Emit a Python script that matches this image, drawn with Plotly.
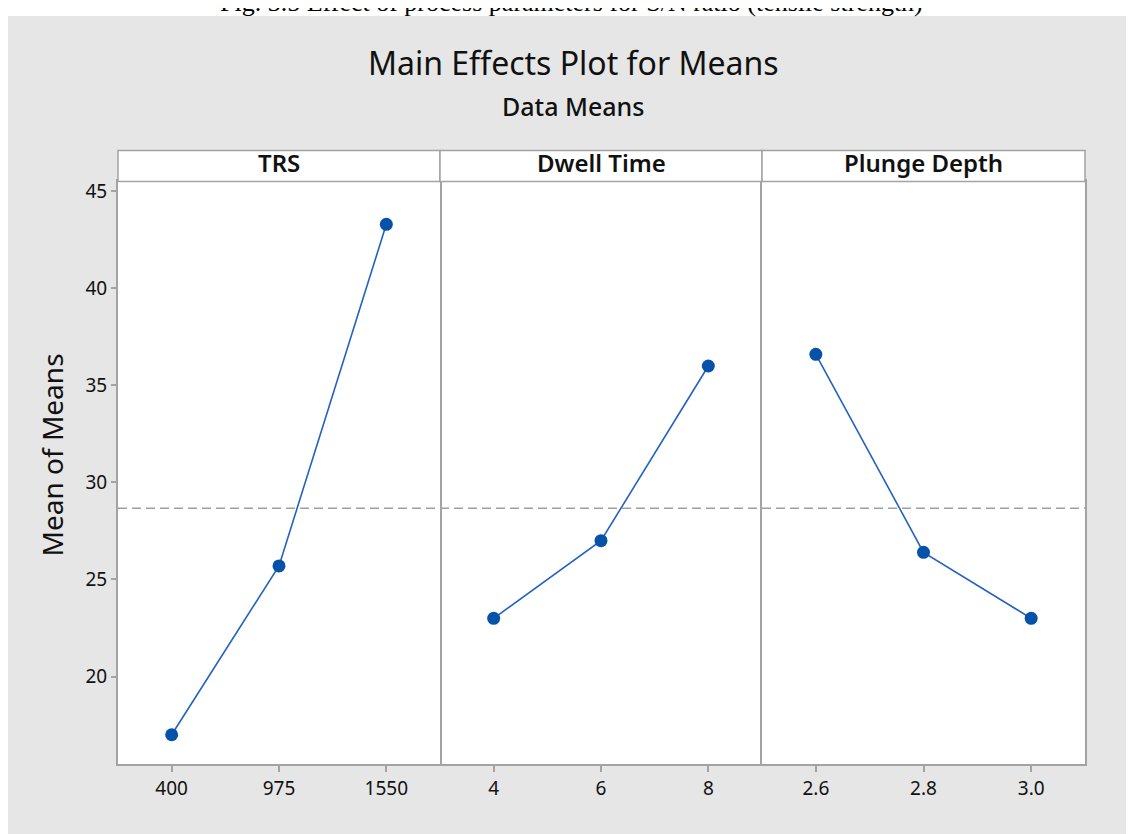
import plotly.graph_objects as go

# ---- data ----
factors = ["TRS", "Dwell Time", "Plunge Depth"]
trs_levels = ["400", "975", "1550"]
trs_means = [17.0, 25.7, 43.3]
dwell_levels = ["4", "6", "8"]
dwell_means = [23.0, 27.0, 36.0]
plunge_levels = ["2.6", "2.8", "3.0"]
plunge_means = [36.6, 26.4, 23.0]
y_ticks = [20, 25, 30, 35, 40, 45]

levels = [trs_levels, dwell_levels, plunge_levels]
means = [trs_means, dwell_means, plunge_means]
grand_mean = sum(trs_means) / len(trs_means)

W, H = 1134, 834
OFF = 8  # page body margin
def px(x):
    return (x - OFF) / W
def py(y):
    return 1 - (y - OFF) / H

LINE_C = "#2362c0"
MARK_C = "#0652a8"
FRAME_C = "#a3a3a3"
BG = "#e6e6e6"
FONT = "Noto Sans"

panel_x = [(118, 440), (440, 762), (762, 1085)]
plot_top, plot_bot, strip_top = 179, 764, 148

fig = go.Figure()
for i in range(3):
    sfx = "" if i == 0 else str(i + 1)
    fig.add_trace(go.Scatter(
        x=levels[i], y=means[i], mode="lines+markers",
        line=dict(color=LINE_C, width=1.6),
        marker=dict(color=MARK_C, size=13),
        xaxis="x" + sfx, yaxis="y" + sfx, showlegend=False, hoverinfo="x+y"))

layout = dict(
    width=W, height=H,
    margin=dict(l=0, r=0, t=0, b=0),
    paper_bgcolor=BG, plot_bgcolor="white",
    font=dict(family=FONT, color="#111111"),
    showlegend=False,
)

yr = [15.48, 45.51]
for i in range(3):
    sfx = "" if i == 0 else str(i + 1)
    x0, x1 = panel_x[i]
    layout["xaxis" + sfx] = dict(
        domain=[px(x0), px(x1)], anchor="y" + sfx, type="category",
        categoryorder="array", categoryarray=levels[i],
        range=[-0.5, 2.5], showgrid=False, zeroline=False,
        showline=True, linecolor=FRAME_C, linewidth=1.5, mirror=True,
        ticks="outside", ticklen=6, tickcolor=FRAME_C, tickwidth=1.5,
        tickfont=dict(size=19, color="#111111", family=FONT),
        fixedrange=True)
    layout["yaxis" + sfx] = dict(
        domain=[py(plot_bot), py(plot_top)], anchor="x" + sfx,
        range=yr, showgrid=False, zeroline=False,
        showline=(i != 1), linecolor=FRAME_C, linewidth=2, mirror=True,
        tickvals=y_ticks if i == 0 else [],
        ticks="outside" if i == 0 else "", ticklen=5, tickcolor=FRAME_C, tickwidth=1.5,
        showticklabels=(i == 0),
        tickfont=dict(size=19, color="#111111", family=FONT),
        fixedrange=True)
    if i > 0:
        layout["yaxis" + sfx]["matches"] = "y"

shapes = []
annotations = []
# white band at top (above the grey figure frame)
shapes.append(dict(type="rect", xref="paper", yref="paper", x0=-0.01, x1=1.01,
                   y0=py(13), y1=1.02, fillcolor="white", line=dict(width=0), layer="below"))
for i in range(3):
    x0, x1 = panel_x[i]
    sfx = "" if i == 0 else str(i + 1)
    # strip
    shapes.append(dict(type="rect", xref="paper", yref="paper",
                       x0=px(x0), x1=px(x1), y0=py(plot_top), y1=py(strip_top),
                       fillcolor="white", line=dict(color=FRAME_C, width=1.5), layer="above"))
    annotations.append(dict(text=factors[i], xref="paper", yref="paper",
                            x=px((x0 + x1) / 2), y=py(160), showarrow=False,
                            xanchor="center", yanchor="middle",
                            font=dict(size=24, family=FONT, color="#111111", weight=600)))
    # grand mean reference line
    shapes.append(dict(type="line", xref="x" + sfx + " domain", yref="y" + sfx,
                       x0=0, x1=1, y0=grand_mean, y1=grand_mean,
                       line=dict(color="#a0a0a0", width=1.5, dash="9px,5px"), layer="below"))

annotations.append(dict(text="Main Effects Plot for Means", xref="paper", yref="paper",
                        x=px(573), y=py(60), showarrow=False, xanchor="center", yanchor="middle",
                        font=dict(size=32, family=FONT, color="#111111")))
annotations.append(dict(text="Data Means", xref="paper", yref="paper",
                        x=px(573), y=py(103), showarrow=False, xanchor="center", yanchor="middle",
                        font=dict(size=25, family=FONT, color="#111111", weight=500)))
annotations.append(dict(text="Mean of Means", xref="paper", yref="paper",
                        x=px(52), y=py(454), showarrow=False, textangle=-90,
                        xanchor="center", yanchor="middle",
                        font=dict(size=28, family=FONT, color="#111111")))
annotations.append(dict(text="Fig. 3.5 Effect of process parameters for S/N ratio (tensile strength)",
                        xref="paper", yref="paper", x=px(571), y=py(16), showarrow=False,
                        xanchor="center", yanchor="bottom",
                        font=dict(size=26, family="Liberation Serif", color="#000000")))

layout["shapes"] = shapes
layout["annotations"] = annotations
fig.update_layout(**layout)
fig.write_html("out.html")
